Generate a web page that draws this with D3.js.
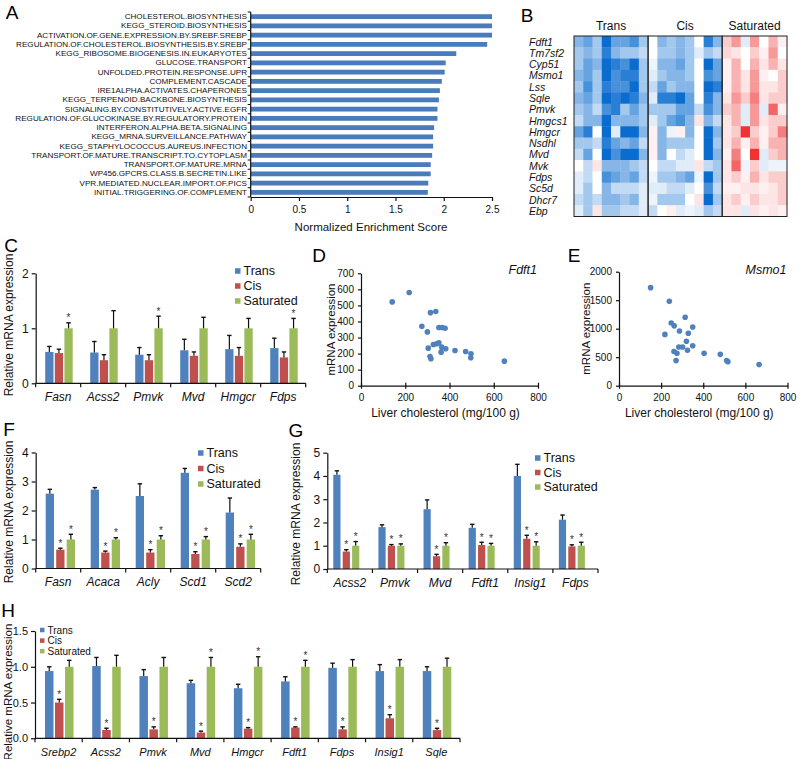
<!DOCTYPE html>
<html>
<head>
<meta charset="utf-8">
<script src="https://cdn.jsdelivr.net/npm/d3@7"></script>
<style>
  body { margin: 0; background: #fff; }
  svg { font-family: Arial, "Liberation Sans", sans-serif; }
</style>
</head>
<body>
<svg id="fig" width="800" height="759"></svg>
<script>
// ---------- DATA ----------

// A: GSEA pathways and normalized enrichment scores
var gseaTerms = [
  "CHOLESTEROL.BIOSYNTHESIS",
  "KEGG_STEROID.BIOSYNTHESIS",
  "ACTIVATION.OF.GENE.EXPRESSION.BY.SREBF.SREBP",
  "REGULATION.OF.CHOLESTEROL.BIOSYNTHESIS.BY.SREBP",
  "KEGG_RIBOSOME.BIOGENESIS.IN.EUKARYOTES",
  "GLUCOSE.TRANSPORT",
  "UNFOLDED.PROTEIN.RESPONSE.UPR",
  "COMPLEMENT.CASCADE",
  "IRE1ALPHA.ACTIVATES.CHAPERONES",
  "KEGG_TERPENOID.BACKBONE.BIOSYNTHESIS",
  "SIGNALING.BY.CONSTITUTIVELY.ACTIVE.EGFR",
  "REGULATION.OF.GLUCOKINASE.BY.REGULATORY.PROTEIN",
  "INTERFERON.ALPHA.BETA.SIGNALING",
  "KEGG_MRNA.SURVEILLANCE.PATHWAY",
  "KEGG_STAPHYLOCOCCUS.AUREUS.INFECTION",
  "TRANSPORT.OF.MATURE.TRANSCRIPT.TO.CYTOPLASM",
  "TRANSPORT.OF.MATURE.MRNA",
  "WP456.GPCRS.CLASS.B.SECRETIN.LIKE",
  "VPR.MEDIATED.NUCLEAR.IMPORT.OF.PICS",
  "INITIAL.TRIGGERING.OF.COMPLEMENT"
];
var gseaNES = [2.50, 2.50, 2.50, 2.45, 2.13, 2.02, 2.01, 1.98, 1.96, 1.95,
               1.935, 1.935, 1.90, 1.89, 1.89, 1.88, 1.865, 1.865, 1.84, 1.835];
var nesTicks = [0, 0.5, 1, 1.5, 2, 2.5];

// B: heatmap (negative = blue, positive = red)
var heatGroups = ["Trans", "Cis", "Saturated"];
var heatGroupSizes = [8, 8, 7];
var heatGenes = ["Fdft1", "Tm7sf2", "Cyp51", "Msmo1", "Lss", "Sqle", "Pmvk", "Hmgcs1",
                 "Hmgcr", "Nsdhl", "Mvd", "Mvk", "Fdps", "Sc5d", "Dhcr7", "Ebp"];
var heatValues = [
  [-2,-2.5,-1.5,-4,-2.5,-2.5,-3,-1.5,  0,-2,-1.5,-2,-1.5,0,-3.5,-2,  1,2,-0.5,2,0,1.5,0.3],
  [-1.5,-2,-1.5,-3.5,-2,-1.5,-1.5,-1,  0,-1.5,-1.5,-2,-1.5,-0.5,-1.5,-1,  0.8,0.5,0,1,0.3,2,0],
  [-1.5,-2.5,-2,-4,-3.5,-3,-4,-1.5,  -0.3,-2,-2,-2.5,-1.5,0,-4,-2.5,  0.3,1.5,0,1.5,0.5,1.5,0.5],
  [-2,-2.5,-1.5,-4,-3,-3.5,-3.5,-1.5,  -0.5,-1.5,-2,-2,-1.5,0,-3,-2.5,  0.3,1.5,0.5,2,0.3,0,1],
  [-1.5,-3,-1.5,-3.5,-3,-3,-4,-1.5,  -1,-2.5,-1.5,-2,-2,0,-4,-3.5,  0.3,1.5,0.5,2,0.5,0.5,1],
  [-2,-2.5,-1.5,-4,-3.5,-4,-3.5,-2,  -0.5,-3.5,-3.5,-4,-2.5,0,-3.5,-2,  0.5,2,1,2.5,0.5,1,1],
  [-1.5,-2,-1,-3,-3.5,-1.5,-2.5,-1.5,  -1.5,-1.5,-1.5,-2.5,-2.5,-1,-3,-2,  1,1.5,-0.5,2,-0.5,3,0.3],
  [-1,-2,-2,-4,-2,-2,-2,-1.5,  -0.5,-1.5,-2.5,-3,-2,0.5,-2,-1,  0.5,1.5,-0.5,2,0.5,1,1],
  [-2.5,-3.5,0,-4,-0.5,-4,-4,-2,  0.3,-2,-0.3,0.3,-2,0,-4,-2,  0.5,1,4,1,0.3,1,2.5],
  [-1.5,-1.5,-1,-3.5,-2.5,-2,-2.5,-1,  0.3,-2,-1.5,-1.5,-1.5,0,-4,-1.5,  0.5,1.5,0.3,1.5,0.3,1.5,1.5],
  [-1,-2.5,0,-4,-3,-4,-4,-2,  0.3,-2,0,-1,-0.5,0,-4,-2,  0.3,2.5,0,4,-0.5,1,1.5],
  [0,-1,0.5,-2,-2,-2,-1.5,-1,  0,-1,-1,-0.5,-0.5,0.5,-1,-1.5,  0.5,3,-0.3,1,-0.5,-0.3,-0.3],
  [-0.5,-1,0,-3,-2.5,-2,-2.5,-1,  -0.3,-1.5,-1.5,-2,-2.5,-0.3,-4,-1.5,  0.5,1,0.3,1.5,0.5,1,1],
  [-0.5,-1.5,0,-2,-1,-1,-1,-0.5,  -0.5,-0.5,-1,-1,-0.5,0,-3,-1,  0.3,0.3,0.5,0.5,0.3,0.5,1],
  [-1,-1.5,-1,-2,-2,-1.5,-2,-0.5,  -0.3,-1.5,-1.5,-1.5,0,0.5,-4,-1.5,  0.5,1,0.3,1,0.5,0.5,1],
  [-0.5,-1.5,0.5,-1.5,-1.5,-1,-1,-0.5,  -1,0,0.3,-0.5,-0.3,-0.5,-1.5,-1,  0.5,0.5,-0.5,0.5,0.3,0.5,0.3]
];

// series shared by bar panels
var seriesNames = ["Trans", "Cis", "Saturated"];

// C: relative mRNA expression
var cGenes = ["Fasn", "Acss2", "Pmvk", "Mvd", "Hmgcr", "Fdps"];
var cTrans = [0.57, 0.56, 0.52, 0.60, 0.62, 0.64];
var cCis = [0.55, 0.42, 0.42, 0.50, 0.50, 0.47];
var cSat = [1, 1, 1, 1, 1, 1];
var cTransErr = [0.10, 0.20, 0.13, 0.20, 0.25, 0.18];
var cCisErr = [0.07, 0.10, 0.10, 0.07, 0.15, 0.10];
var cSatErr = [0.10, 0.32, 0.22, 0.20, 0.18, 0.18];
var cStars = ["S", "", "S", "", "", "S"];

// D, E: liver cholesterol vs mRNA expression
var dCholesterol = [141, 218, 275, 300, 314, 338, 352, 367, 380, 304, 327, 342, 352, 365,
                    362, 383, 312, 316, 425, 473, 497, 496, 648];
var dFdft1 = [522, 580, 370, 335, 455, 462, 362, 362, 358, 234, 257, 261, 267, 240,
              209, 230, 182, 168, 219, 213, 199, 174, 153];
var eCholesterol = [150, 239, 218, 248, 262, 287, 314, 329, 350, 320, 350, 284, 302, 261,
                    275, 271, 325, 404, 481, 511, 517, 665];
var eMsmo1 = [1720, 1480, 900, 1100, 1050, 960, 1200, 920, 1030, 780, 700, 680, 680, 600,
              570, 440, 620, 570, 550, 440, 420, 370];
var cholTicks = [0, 200, 400, 600, 800];
var dTicks = [0, 100, 200, 300, 400, 500, 600, 700];
var eTicks = [0, 500, 1000, 1500, 2000];

// F
var fGenes = ["Fasn", "Acaca", "Acly", "Scd1", "Scd2"];
var fTrans = [2.58, 2.72, 2.50, 3.30, 1.93];
var fCis = [0.65, 0.55, 0.55, 0.50, 0.75];
var fSat = [1, 1, 1, 1, 1];
var fTransErr = [0.15, 0.07, 0.42, 0.15, 0.50];
var fCisErr = [0.05, 0.05, 0.10, 0.08, 0.10];
var fSatErr = [0.18, 0.06, 0.13, 0.10, 0.18];
var fStars = ["CS", "CS", "CS", "CS", "CS"];

// G
var gGenes = ["Acss2", "Pmvk", "Mvd", "Fdft1", "Insig1", "Fdps"];
var gTrans = [4.05, 1.80, 2.57, 1.77, 4.00, 2.12];
var gCis = [0.75, 1.00, 0.55, 1.03, 1.30, 0.97];
var gSat = [1, 1, 1, 1, 1, 1];
var gTransErr = [0.17, 0.10, 0.40, 0.15, 0.50, 0.20];
var gCisErr = [0.08, 0.05, 0.08, 0.12, 0.15, 0.07];
var gSatErr = [0.18, 0.08, 0.13, 0.10, 0.17, 0.15];
var gStars = ["CS", "CS", "CS", "CS", "CS", "CS"];

// H
var hGenes = ["Srebp2", "Acss2", "Pmvk", "Mvd", "Hmgcr", "Fdft1", "Fdps", "Insig1", "Sqle"];
var hTrans = [0.94, 1.01, 0.87, 0.77, 0.70, 0.795, 0.985, 0.94, 0.94];
var hCis = [0.50, 0.116, 0.125, 0.08, 0.135, 0.15, 0.125, 0.28, 0.115];
var hSat = [1, 1, 1, 1, 1, 1, 1, 1, 1];
var hTransErr = [0.06, 0.12, 0.09, 0.04, 0.055, 0.065, 0.065, 0.09, 0.06];
var hCisErr = [0.045, 0.025, 0.035, 0.02, 0.015, 0.01, 0.035, 0.05, 0.025];
var hSatErr = [0.09, 0.16, 0.13, 0.13, 0.14, 0.09, 0.10, 0.10, 0.12];
var hStars = ["C", "C", "C", "CS", "CS", "CS", "C", "C", "C"];

// ---------- DRAWING ----------
var svg = d3.select("#fig");
var colors = ["#4f81bd", "#c0504d", "#9bbb59"];
var ink = "#111";

function panelLetter(t, x, y) {
  svg.append("text").attr("x", x).attr("y", y)
    .attr("text-anchor", "middle").attr("dominant-baseline", "central")
    .style("font-size", "19px").text(t);
}

function styleAxis(g, fs) {
  g.selectAll("path, line").attr("stroke", ink).attr("stroke-width", 1.2);
  g.selectAll("text").style("font-size", fs + "px").attr("fill", ink)
    .style("font-family", "Arial, 'Liberation Sans', sans-serif");
}

// ---- Panel A ----
panelLetter("A", 12, 12);
var xA = d3.scaleLinear().domain([0, 2.5]).range([250.7, 492]);
var yA = d3.scaleBand().domain(gseaTerms).range([12, 197]).paddingInner(0.48).paddingOuter(0.24);

svg.append("g").selectAll("rect").data(gseaTerms).enter().append("rect")
  .attr("x", xA(0))
  .attr("y", function (d) { return yA(d); })
  .attr("width", function (d, i) { return xA(gseaNES[i]) - xA(0); })
  .attr("height", yA.bandwidth())
  .attr("fill", "#4a7cbc");

var gAx = svg.append("g").attr("transform", "translate(0,197)")
  .call(d3.axisBottom(xA).tickValues(nesTicks).tickSize(4).tickSizeOuter(0).tickFormat(d3.format("")));
styleAxis(gAx, 10);
gAx.selectAll("text").attr("dy", "0.85em");

svg.append("line").attr("x1", xA(0)).attr("x2", xA(0)).attr("y1", 12).attr("y2", 197)
  .attr("stroke", ink).attr("stroke-width", 1.2);
svg.append("g").selectAll("line").data(d3.range(gseaTerms.length + 1)).enter().append("line")
  .attr("x1", xA(0) - 3).attr("x2", xA(0))
  .attr("y1", function (d) { return 12 + d * yA.step(); })
  .attr("y2", function (d) { return 12 + d * yA.step(); })
  .attr("stroke", ink).attr("stroke-width", 1);

svg.append("g").selectAll("text").data(gseaTerms).enter().append("text")
  .attr("x", 247)
  .attr("y", function (d) { return yA(d) + yA.bandwidth() / 2; })
  .attr("text-anchor", "end").attr("dominant-baseline", "central")
  .style("font-size", "8.1px").attr("fill", ink)
  .text(function (d) { return d; });

svg.append("text").attr("x", 371).attr("y", 227).attr("text-anchor", "middle")
  .attr("dominant-baseline", "central").style("font-size", "11.5px").attr("fill", ink)
  .text("Normalized Enrichment Score");

// ---- Panel B ----
panelLetter("B", 527, 15);
var nCols = d3.sum(heatGroupSizes);
var xB = d3.scaleBand().domain(d3.range(nCols)).range([574, 787]);
var yB = d3.scaleBand().domain(heatGenes).range([36, 216.5]);
var colorB = d3.scaleLinear().domain([-4, 0, 4]).range(["#0a6ccf", "#ffffff", "#ef3232"]).clamp(true);

heatGenes.forEach(function (gene, r) {
  svg.append("g").selectAll("rect").data(heatValues[r]).enter().append("rect")
    .attr("x", function (d, c) { return xB(c); })
    .attr("y", yB(gene))
    .attr("width", xB.bandwidth() + 0.4)
    .attr("height", yB.bandwidth() + 0.4)
    .attr("fill", function (d) { return colorB(d); });
});

var groupStarts = [0, heatGroupSizes[0], heatGroupSizes[0] + heatGroupSizes[1]];
heatGroups.forEach(function (g, i) {
  var x0 = xB(groupStarts[i]);
  var w = heatGroupSizes[i] * xB.step();
  svg.append("rect").attr("x", x0).attr("y", 36).attr("width", w).attr("height", 180.5)
    .attr("fill", "none").attr("stroke", "#222").attr("stroke-width", 1);
  svg.append("text").attr("x", x0 + w / 2).attr("y", 26).attr("text-anchor", "middle")
    .attr("dominant-baseline", "central").style("font-size", "12px").attr("fill", ink).text(g);
});

svg.append("g").selectAll("text").data(heatGenes).enter().append("text")
  .attr("x", 529)
  .attr("y", function (d) { return yB(d) + yB.bandwidth() / 2; })
  .attr("dominant-baseline", "central")
  .style("font-size", "10.5px").style("font-style", "italic").attr("fill", ink)
  .text(function (d) { return d; });

// ---- bar panels ----
function barPanel(o) {
  var x = d3.scaleBand().domain(o.genes).range([o.left, o.right]);
  var y = d3.scaleLinear().domain([0, o.yMax]).range([o.bottom, o.top]);
  var g = svg.append("g");
  var letters = ["T", "C", "S"];

  o.series.forEach(function (vals, s) {
    var rows = vals.map(function (v, i) {
      return { v: v, e: o.errs[s][i], i: i,
               cx: x(o.genes[i]) + o.pad + s * (o.barW + o.gap) + o.barW / 2,
               star: o.stars[i].indexOf(letters[s]) >= 0 };
    });
    g.append("g").selectAll("rect").data(rows).enter().append("rect")
      .attr("x", function (d) { return d.cx - o.barW / 2; })
      .attr("y", function (d) { return y(d.v); })
      .attr("width", o.barW)
      .attr("height", function (d) { return y(0) - y(d.v); })
      .attr("fill", colors[s]);

    var eg = g.append("g").selectAll("g").data(rows).enter().append("g");
    eg.append("line")
      .attr("x1", function (d) { return d.cx; })
      .attr("x2", function (d) { return d.cx; })
      .attr("y1", function (d) { return y(d.v); })
      .attr("y2", function (d) { return y(d.v + d.e); })
      .attr("stroke", ink).attr("stroke-width", 1.2);
    eg.append("line")
      .attr("x1", function (d) { return d.cx - 2.2; })
      .attr("x2", function (d) { return d.cx + 2.2; })
      .attr("y1", function (d) { return y(d.v + d.e); })
      .attr("y2", function (d) { return y(d.v + d.e); })
      .attr("stroke", ink).attr("stroke-width", 1.4);
    eg.filter(function (d) { return d.star; })
      .append("text")
      .attr("x", function (d) { return d.cx; })
      .attr("y", function (d) { return y(d.v + d.e) - 1.5; })
      .attr("text-anchor", "middle").style("font-size", o.starSize + "px").attr("fill", "#333")
      .text("*");
  });

  var gy = svg.append("g").attr("transform", "translate(" + o.left + ",0)")
    .call(d3.axisLeft(y).tickValues(o.ticks).tickSize(4).tickSizeOuter(0).tickFormat(o.fmt));
  styleAxis(gy, o.fs);

  svg.append("line").attr("x1", o.left).attr("x2", o.right).attr("y1", y(0)).attr("y2", y(0))
    .attr("stroke", ink).attr("stroke-width", 1.2);
  svg.append("g").selectAll("line").data(d3.range(o.genes.length + 1)).enter().append("line")
    .attr("x1", function (d) { return o.left + d * x.step(); })
    .attr("x2", function (d) { return o.left + d * x.step(); })
    .attr("y1", y(0)).attr("y2", y(0) + 4)
    .attr("stroke", ink).attr("stroke-width", 1.2);
  svg.append("g").selectAll("text").data(o.genes).enter().append("text")
    .attr("x", function (d) { return x(d) + x.bandwidth() / 2; })
    .attr("y", y(0) + 13.5)
    .attr("text-anchor", "middle").attr("dominant-baseline", "central")
    .style("font-size", o.fs + "px").style("font-style", "italic").attr("fill", ink)
    .text(function (d) { return d; });

  svg.append("text")
    .attr("transform", "translate(" + o.titleX + "," + o.titleY + ") rotate(-90)")
    .attr("text-anchor", "middle").attr("dominant-baseline", "central")
    .style("font-size", o.titleSize + "px").attr("fill", ink)
    .text("Relative mRNA expression");

  var lg = svg.append("g").selectAll("g").data(seriesNames).enter().append("g")
    .attr("transform", function (d, i) { return "translate(" + o.legX + "," + (o.legY + i * o.legDy) + ")"; });
  lg.append("rect").attr("x", 0).attr("y", -o.legSq / 2).attr("width", o.legSq).attr("height", o.legSq)
    .attr("fill", function (d, i) { return colors[i]; });
  lg.append("text").attr("x", o.legSq + 3).attr("y", 0).attr("dominant-baseline", "central")
    .style("font-size", o.legFs + "px").attr("fill", ink)
    .text(function (d) { return d; });
}

// ---- Panel C ----
panelLetter("C", 11, 245);
barPanel({
  genes: cGenes, series: [cTrans, cCis, cSat], errs: [cTransErr, cCisErr, cSatErr], stars: cStars,
  left: 35.7, right: 305.7, bottom: 383.3, top: 273.3, yMax: 2, ticks: [0, 1, 2], fmt: d3.format("d"),
  pad: 9.5, barW: 8.3, gap: 1.3, fs: 12, starSize: 10, titleX: 9, titleY: 325, titleSize: 12,
  legX: 235, legY: 271, legDy: 15, legSq: 5.5, legFs: 12.5
});

// ---- Panel F ----
panelLetter("F", 9, 429);
barPanel({
  genes: fGenes, series: [fTrans, fCis, fSat], errs: [fTransErr, fCisErr, fSatErr], stars: fStars,
  left: 35.7, right: 260.7, bottom: 568.5, top: 452.5, yMax: 4, ticks: [0, 1, 2, 3, 4], fmt: d3.format("d"),
  pad: 10, barW: 8.3, gap: 2.2, fs: 12, starSize: 10, titleX: 9, titleY: 512, titleSize: 12,
  legX: 198, legY: 453, legDy: 15.5, legSq: 5.5, legFs: 12.5
});

// ---- Panel G ----
panelLetter("G", 296, 430);
barPanel({
  genes: gGenes, series: [gTrans, gCis, gSat], errs: [gTransErr, gCisErr, gSatErr], stars: gStars,
  left: 327.3, right: 598, bottom: 569, top: 452.7, yMax: 5, ticks: [0, 1, 2, 3, 4, 5], fmt: d3.format("d"),
  pad: 6, barW: 7.2, gap: 2.2, fs: 12, starSize: 10, titleX: 296, titleY: 514, titleSize: 12,
  legX: 535, legY: 458, legDy: 14.5, legSq: 5.5, legFs: 12.5
});

// ---- Panel H ----
panelLetter("H", 8, 610);
barPanel({
  genes: hGenes, series: [hTrans, hCis, hSat], errs: [hTransErr, hCisErr, hSatErr], stars: hStars,
  left: 35, right: 460, bottom: 738.3, top: 631, yMax: 1.5, ticks: [0, 0.5, 1, 1.5], fmt: d3.format(".1f"),
  pad: 10, barW: 8.5, gap: 1.5, fs: 11, starSize: 10, titleX: 8, titleY: 692, titleSize: 11.5,
  legX: 40, legY: 630, legDy: 10.6, legSq: 4.5, legFs: 10
});

// ---- scatter panels D, E ----
function scatterPanel(o) {
  var x = d3.scaleLinear().domain([0, 800]).range([o.left, o.right]);
  var y = d3.scaleLinear().domain([0, o.yMax]).range([o.bottom, o.top]);

  var gx = svg.append("g").attr("transform", "translate(0," + o.bottom + ")")
    .call(d3.axisBottom(x).tickValues(cholTicks).tickSize(4).tickSizeOuter(0).tickFormat(d3.format("d")));
  styleAxis(gx, 10);
  gx.selectAll(".tick line").attr("y1", -3).attr("y2", 3);
  gx.selectAll("text").attr("dy", "0.8em");

  var gy = svg.append("g").attr("transform", "translate(" + o.left + ",0)")
    .call(d3.axisLeft(y).tickValues(o.ticks).tickSize(3).tickPadding(4).tickSizeOuter(0).tickFormat(d3.format("d")));
  styleAxis(gy, 10);

  svg.append("g").selectAll("circle").data(o.yVals).enter().append("circle")
    .attr("cx", function (d, i) { return x(o.xVals[i]); })
    .attr("cy", function (d) { return y(d); })
    .attr("r", 2.8)
    .attr("fill", "#4f81bd");

  svg.append("text").attr("x", (o.left + o.right) / 2 - 4).attr("y", 413)
    .attr("text-anchor", "middle").attr("dominant-baseline", "central")
    .style("font-size", "12px").attr("fill", ink).text("Liver cholesterol (mg/100 g)");
  svg.append("text")
    .attr("transform", "translate(" + o.titleX + "," + ((o.top + o.bottom) / 2) + ") rotate(-90)")
    .attr("text-anchor", "middle").attr("dominant-baseline", "central")
    .style("font-size", "11.5px").attr("fill", ink).text("mRNA expression");
  svg.append("text").attr("x", o.right - 1).attr("y", 270).attr("text-anchor", "end")
    .attr("dominant-baseline", "central").style("font-size", "12.5px").style("font-style", "italic")
    .attr("fill", ink).text(o.gene);
}

panelLetter("D", 319, 255);
scatterPanel({
  left: 361, right: 538, bottom: 385.7, top: 273.3, yMax: 700, ticks: dTicks,
  xVals: dCholesterol, yVals: dFdft1, gene: "Fdft1", titleX: 331
});

panelLetter("E", 574, 255);
scatterPanel({
  left: 619, right: 787.5, bottom: 385.7, top: 271.7, yMax: 2000, ticks: eTicks,
  xVals: eCholesterol, yVals: eMsmo1, gene: "Msmo1", titleX: 586
});
</script>
</body>
</html>
